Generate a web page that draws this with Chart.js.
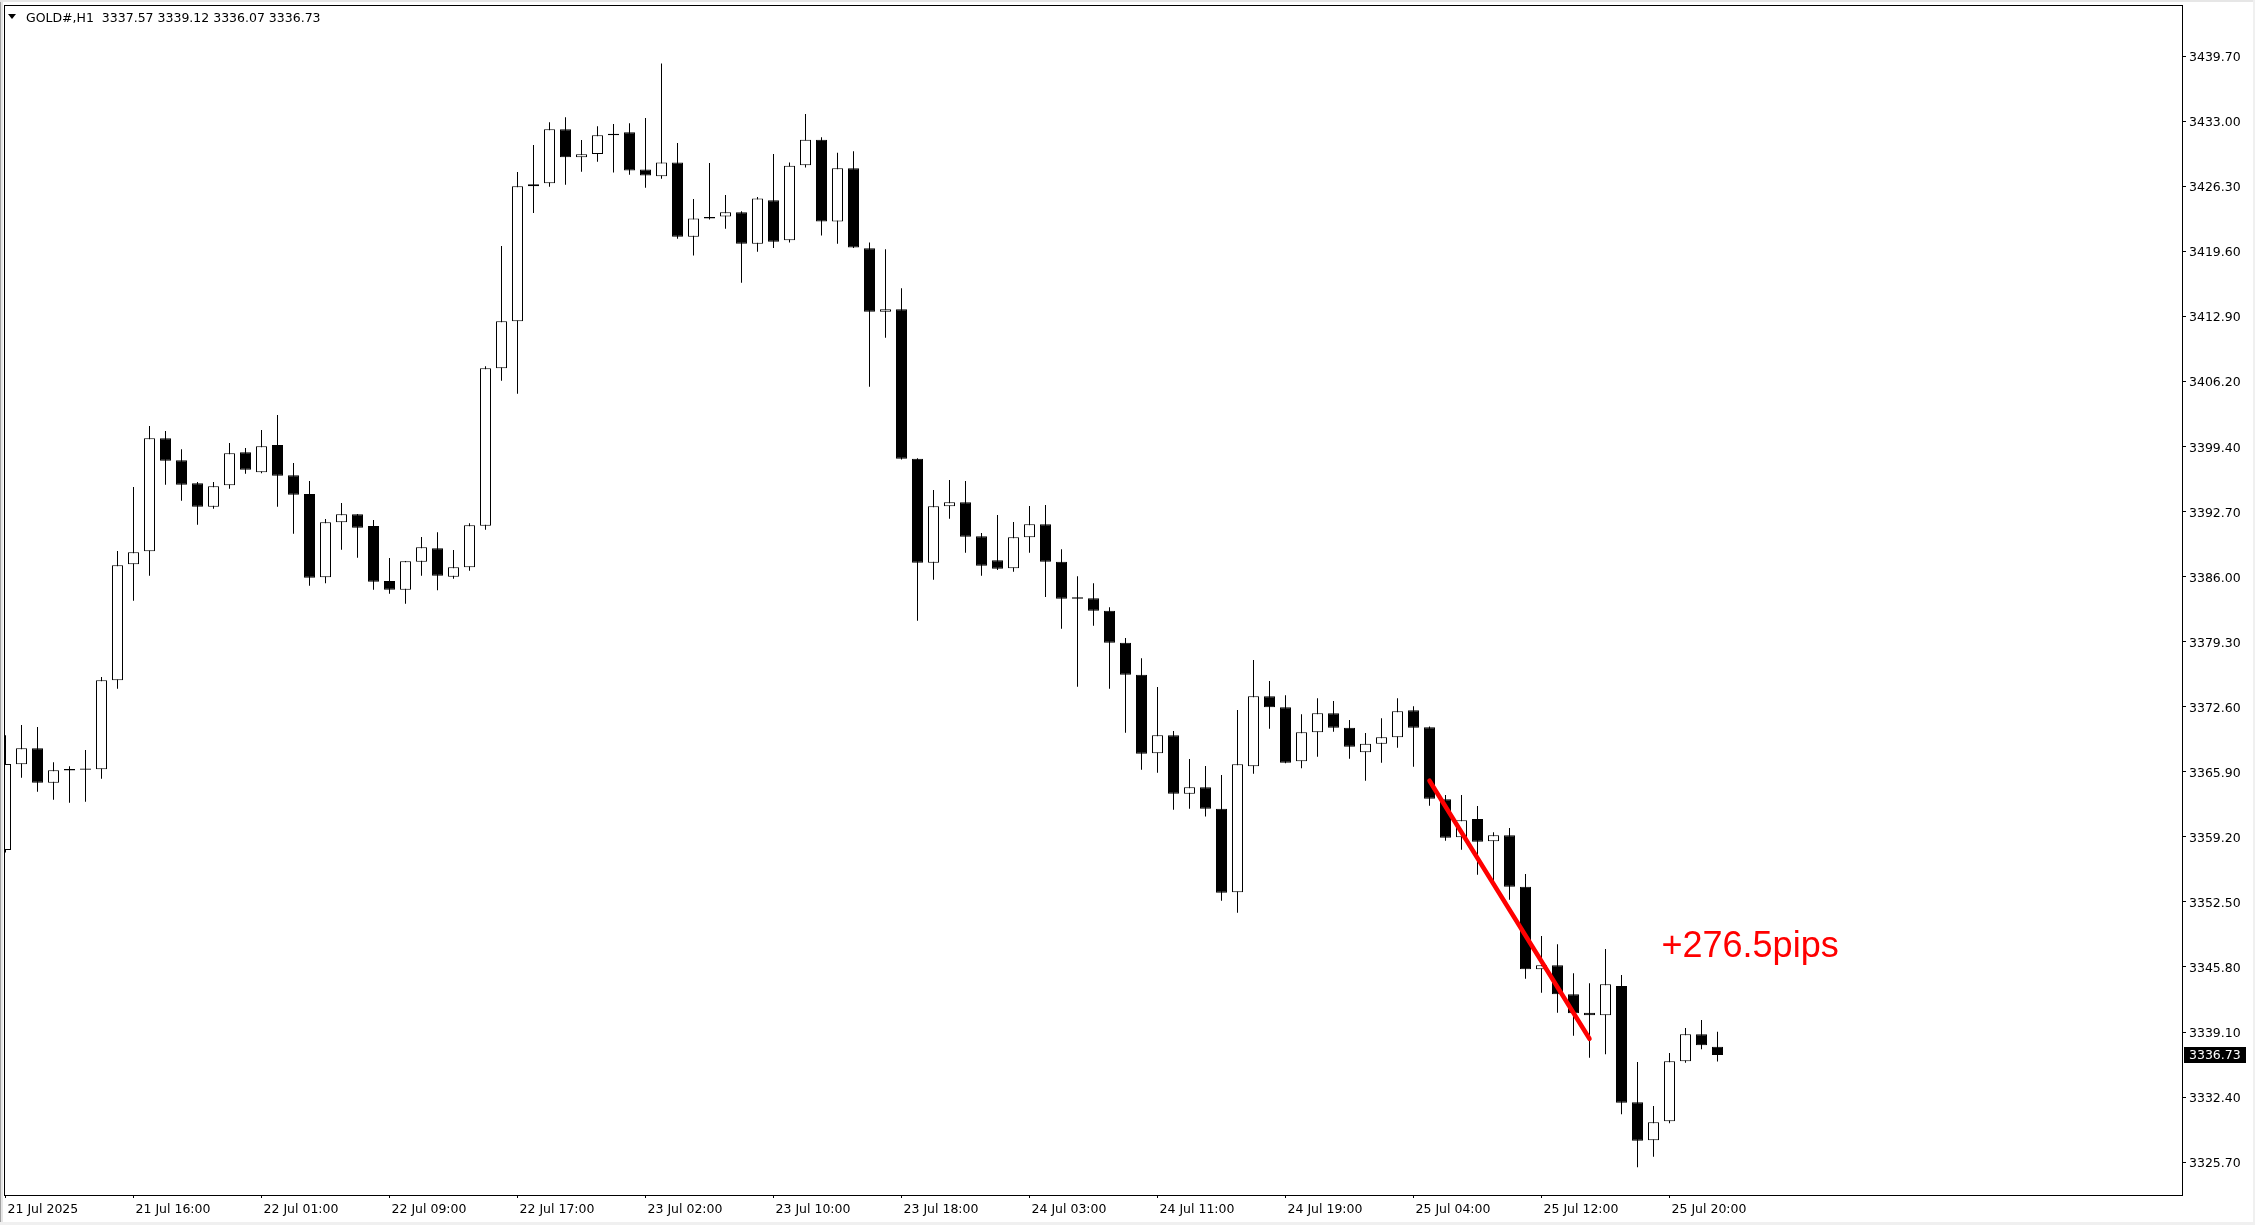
<!DOCTYPE html>
<html>
<head>
<meta charset="utf-8">
<title>GOLD#,H1</title>
<script src="https://cdn.jsdelivr.net/npm/chart.js@4.4.1/dist/chart.umd.min.js"></script>
<style>
html, body { margin: 0; padding: 0; background: #fff; }
canvas { display: block; }
</style>
</head>
<body>
<canvas id="chart" width="2255" height="1225"></canvas>
<script>
var symbol = "GOLD#,H1";

var opens = [3357.86, 3366.70, 3368.34, 3364.80, 3366.21, 3366.12, 3366.18, 3375.35, 3387.31, 3388.65,
  3400.30, 3398.03, 3395.66, 3393.25, 3395.45, 3398.85, 3396.79, 3399.61, 3396.48, 3394.56,
  3385.97, 3391.64, 3392.46, 3391.26, 3385.59, 3384.69, 3387.58, 3388.96, 3386.03, 3387.00,
  3391.29, 3407.51, 3412.35, 3426.27, 3426.58, 3432.14, 3429.26, 3429.59, 3431.53, 3431.84,
  3428.01, 3427.30, 3428.72, 3421.06, 3422.96, 3423.16, 3423.59, 3420.36, 3424.82, 3420.71,
  3428.44, 3431.08, 3422.65, 3428.13, 3419.89, 3413.33, 3413.59, 3398.19, 3387.47, 3393.29,
  3393.70, 3390.20, 3387.72, 3386.90, 3390.09, 3391.43, 3387.58, 3383.76, 3383.80, 3382.53,
  3379.23, 3375.93, 3367.83, 3369.68, 3363.66, 3364.33, 3362.12, 3353.50, 3366.49, 3373.70,
  3372.57, 3367.00, 3369.99, 3371.95, 3370.47, 3367.93, 3368.82, 3369.48, 3372.26, 3370.51,
  3363.09, 3359.17, 3361.05, 3358.76, 3359.38, 3354.08, 3345.57, 3345.98, 3342.99, 3341.09,
  3340.82, 3343.84, 3331.86, 3327.94, 3329.90, 3336.08, 3338.86, 3337.57];

var highs = [3369.70, 3370.75, 3370.54, 3366.90, 3366.49, 3368.17, 3375.69, 3388.68, 3395.28, 3401.56,
  3401.05, 3399.16, 3395.79, 3395.79, 3399.81, 3399.30, 3401.15, 3402.70, 3397.75, 3395.89,
  3391.98, 3393.63, 3392.50, 3391.87, 3387.96, 3387.65, 3390.12, 3390.61, 3388.78, 3391.54,
  3407.72, 3420.12, 3427.74, 3430.53, 3432.87, 3433.38, 3431.04, 3432.46, 3432.70, 3432.78,
  3433.30, 3438.94, 3430.73, 3424.97, 3428.68, 3425.37, 3423.70, 3425.17, 3429.59, 3428.72,
  3433.73, 3431.32, 3429.74, 3429.87, 3420.48, 3419.78, 3415.76, 3398.25, 3394.97, 3396.00,
  3395.90, 3390.54, 3392.39, 3391.67, 3393.32, 3393.42, 3388.86, 3386.07, 3385.35, 3382.88,
  3379.71, 3377.62, 3374.66, 3370.13, 3367.24, 3366.52, 3365.59, 3372.29, 3377.45, 3375.28,
  3373.81, 3371.85, 3373.50, 3373.22, 3371.26, 3369.92, 3371.44, 3373.50, 3372.67, 3370.60,
  3363.53, 3363.53, 3362.40, 3359.69, 3360.13, 3355.39, 3349.00, 3348.14, 3345.15, 3344.12,
  3347.66, 3344.98, 3336.01, 3331.48, 3336.94, 3339.51, 3340.34, 3339.12];

var lows = [3357.60, 3365.31, 3363.87, 3363.05, 3362.74, 3362.84, 3365.21, 3374.49, 3383.56, 3386.13,
  3395.51, 3393.86, 3391.39, 3393.04, 3395.10, 3396.65, 3396.70, 3393.25, 3390.46, 3385.10,
  3385.35, 3388.81, 3387.99, 3384.69, 3384.28, 3383.25, 3386.13, 3384.63, 3385.83, 3386.65,
  3390.88, 3406.23, 3404.89, 3423.52, 3426.23, 3426.43, 3427.77, 3428.81, 3427.69, 3427.46,
  3426.12, 3427.06, 3420.87, 3419.14, 3422.85, 3421.90, 3416.33, 3419.53, 3419.92, 3420.48,
  3428.21, 3421.19, 3420.36, 3419.90, 3405.60, 3410.66, 3398.10, 3381.50, 3385.72, 3392.01,
  3388.51, 3386.13, 3386.72, 3386.55, 3388.51, 3383.94, 3380.67, 3374.69, 3380.98, 3374.49,
  3369.95, 3366.14, 3365.83, 3362.02, 3362.12, 3361.30, 3352.64, 3351.40, 3365.73, 3370.36,
  3366.80, 3366.28, 3367.48, 3370.05, 3367.27, 3365.01, 3366.86, 3368.41, 3366.45, 3362.43,
  3358.82, 3357.89, 3355.32, 3354.60, 3352.74, 3344.60, 3343.15, 3341.09, 3338.72, 3336.45,
  3336.80, 3330.62, 3325.16, 3326.25, 3329.69, 3335.94, 3337.32, 3336.07];

var closes = [3366.73, 3368.34, 3364.80, 3366.08, 3366.06, 3366.25, 3375.35, 3387.21, 3388.55, 3400.30,
  3397.99, 3395.51, 3393.25, 3395.35, 3398.75, 3397.06, 3399.47, 3396.44, 3394.48, 3385.93,
  3391.64, 3392.46, 3391.08, 3385.52, 3384.69, 3387.62, 3389.06, 3386.13, 3387.00, 3391.33,
  3407.51, 3412.35, 3426.27, 3426.48, 3432.14, 3429.26, 3429.57, 3431.53, 3431.68, 3427.89,
  3427.38, 3428.72, 3421.06, 3422.96, 3423.10, 3423.59, 3420.36, 3425.01, 3420.56, 3428.40,
  3431.08, 3422.65, 3428.13, 3419.96, 3413.33, 3413.59, 3398.19, 3387.47, 3393.29, 3393.70,
  3390.15, 3387.17, 3386.86, 3390.09, 3391.43, 3387.58, 3383.76, 3383.90, 3382.53, 3379.23,
  3375.93, 3367.79, 3369.68, 3363.66, 3364.33, 3362.12, 3353.46, 3366.69, 3373.70, 3372.57,
  3366.86, 3369.99, 3371.95, 3370.47, 3368.51, 3368.82, 3369.48, 3372.16, 3370.47, 3363.15,
  3359.13, 3360.92, 3358.72, 3359.38, 3354.08, 3345.57, 3345.98, 3342.99, 3341.03, 3340.82,
  3344.02, 3331.82, 3327.90, 3329.79, 3336.08, 3338.86, 3337.73, 3336.73];

var tickIdx = [0, 8, 16, 24, 32, 40, 48, 56, 64, 72, 80, 88, 96, 104];
var tickLabels = ["21 Jul 2025", "21 Jul 16:00", "22 Jul 01:00", "22 Jul 09:00", "22 Jul 17:00",
  "23 Jul 02:00", "23 Jul 10:00", "23 Jul 18:00", "24 Jul 03:00", "24 Jul 11:00",
  "24 Jul 19:00", "25 Jul 04:00", "25 Jul 12:00", "25 Jul 20:00"];

var priceTicks = [3325.70, 3332.40, 3339.10, 3345.80, 3352.50, 3359.20, 3365.90, 3372.60, 3379.30,
  3386.00, 3392.70, 3399.40, 3406.20, 3412.90, 3419.60, 3426.30, 3433.00, 3439.70];

var trendX = [89, 99];
var trendY = [3365.0, 3338.4];
var note = "+276.5pips";
var noteX = 103.5;
var noteY = 3346.83;

var wicks = [];
var bodies = [];
var bodyColor = [];
for (var i = 0; i < opens.length; i++) {
  wicks.push({x: i, y: [lows[i], highs[i]]});
  bodies.push({x: i, y: [opens[i], closes[i]]});
  bodyColor.push(closes[i] >= opens[i] ? "#ffffff" : "#000000");
}
var trend = [{x: trendX[0], y: trendY[0]}, {x: trendX[1], y: trendY[1]}];

var font = {family: "'DejaVu Sans'", size: 12.5};
var last = opens.length - 1;

function noPad(s) {
  s.paddingTop = 0;
  s.paddingBottom = 0;
  s.paddingLeft = 0;
  s.paddingRight = 0;
}

var mt4 = {
  id: "mt4",
  beforeDraw: function(c) {
    var ctx = c.ctx;
    ctx.save();
    ctx.fillStyle = "#ffffff";
    ctx.fillRect(0, 0, c.width, c.height);
    ctx.fillStyle = "#a0a0a0";
    ctx.fillRect(0, 0, 1, c.height);
    ctx.fillStyle = "#e6e6e6";
    ctx.fillRect(1, 0, 2, c.height);
    ctx.fillRect(0, 0, c.width, 2);
    ctx.fillStyle = "#f0f0f0";
    ctx.fillRect(0, 1222, c.width, 3);
    ctx.fillRect(2253, 0, 2, c.height);
    ctx.restore();
  },
  afterDraw: function(c) {
    var ctx = c.ctx;
    var a = c.chartArea;
    var xs = c.scales.x;
    var ys = c.scales.y;
    ctx.save();
    ctx.strokeStyle = "#000000";
    ctx.lineWidth = 1;
    ctx.strokeRect(a.left + 0.5, a.top + 0.5, a.right - a.left - 1, a.bottom - a.top);

    // header line
    ctx.fillStyle = "#000000";
    ctx.beginPath();
    ctx.moveTo(8, 14); ctx.lineTo(16, 14); ctx.lineTo(12, 19);
    ctx.closePath();
    ctx.fill();
    ctx.font = "12.5px 'DejaVu Sans'";
    ctx.textBaseline = "alphabetic";
    ctx.fillText(symbol + "  " + [opens[last], highs[last], lows[last], closes[last]].map(function(v) { return v.toFixed(2); }).join(" "), 26, 22);

    // current price tag
    var py = ys.getPixelForValue(closes[last]);
    ctx.fillRect(a.right + 1, Math.round(py) - 8, 62, 16);
    ctx.fillStyle = "#ffffff";
    ctx.textBaseline = "middle";
    ctx.fillText(closes[last].toFixed(2), a.right + 6, py + 1);

    ctx.fillStyle = "#ff0000";
    ctx.font = "36px 'Liberation Sans'";
    ctx.textBaseline = "alphabetic";
    ctx.fillText(note, xs.getPixelForValue(noteX), ys.getPixelForValue(noteY));
    ctx.restore();
  }
};

new Chart(document.getElementById("chart"), {
  type: "bar",
  data: {
    datasets: [
      {
        type: "line",
        data: trend,
        borderColor: "#ff0000",
        borderWidth: 4.5,
        borderCapStyle: "round",
        pointRadius: 0,
        clip: 0,
        order: 0
      },
      {
        data: bodies,
        backgroundColor: bodyColor,
        borderColor: "#000000",
        borderWidth: 1,
        borderSkipped: false,
        inflateAmount: 0,
        barThickness: 11,
        grouped: false,
        clip: 0,
        order: 1
      },
      {
        data: wicks,
        backgroundColor: "#000000",
        borderWidth: 0,
        inflateAmount: 0,
        barThickness: 1,
        grouped: false,
        clip: 0,
        order: 2
      }
    ]
  },
  options: {
    responsive: false,
    animation: false,
    devicePixelRatio: 1,
    layout: {padding: {left: 4, top: 5, right: 0, bottom: 0}},
    plugins: {legend: {display: false}, tooltip: {enabled: false}},
    scales: {
      x: {
        type: "linear",
        offset: false,
        bounds: "data",
        min: -0.09375,
        max: 136.09375,
        afterBuildTicks: function(s) { s.ticks = tickIdx.map(function(v) { return {value: v}; }); },
        afterFit: function(s) { s.height = 30; noPad(s); },
        grid: {display: true, offset: false, drawOnChartArea: false, tickLength: 3, tickColor: "#000000"},
        border: {display: false},
        ticks: {
          align: "start", labelOffset: 2, padding: 4, maxRotation: 0, minRotation: 0, autoSkip: false,
          color: "#000000", font: font,
          callback: function(v, idx) { return tickLabels[idx]; }
        }
      },
      y: {
        type: "linear",
        position: "right",
        beginAtZero: false,
        bounds: "data",
        min: 3322.299,
        max: 3444.957,
        afterBuildTicks: function(s) { s.ticks = priceTicks.map(function(v) { return {value: v}; }); },
        afterFit: function(s) { s.width = 72; noPad(s); },
        grid: {display: true, drawOnChartArea: false, tickLength: 3, tickColor: "#000000"},
        border: {display: false},
        ticks: {
          padding: 3, labelOffset: 2, color: "#000000", font: font, autoSkip: false,
          callback: function(v, idx) { return priceTicks[idx].toFixed(2); }
        }
      }
    }
  },
  plugins: [mt4]
});
</script>
</body>
</html>
